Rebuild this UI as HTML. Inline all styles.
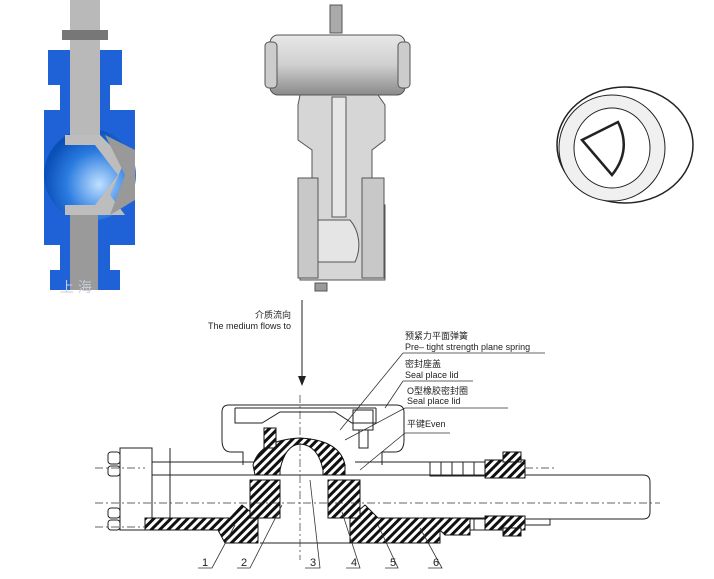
<!DOCTYPE html>
<html><head><meta charset="utf-8"><style>
html,body{margin:0;padding:0;background:#fff;width:714px;height:579px;overflow:hidden}
svg{display:block}
text{font-family:"Liberation Sans","Noto Sans CJK SC",sans-serif;fill:#222}
</style></head><body>
<svg width="714" height="579" viewBox="0 0 714 579" xmlns="http://www.w3.org/2000/svg">
<defs>
<pattern id="h" width="6" height="6" patternUnits="userSpaceOnUse" patternTransform="rotate(45)">
<rect width="6" height="6" fill="#fff"/><rect width="3" height="6" fill="#111"/></pattern>
<linearGradient id="cyl" x1="0" y1="0" x2="0" y2="1"><stop offset="0" stop-color="#e8e8e8"/><stop offset=".5" stop-color="#cfcfcf"/><stop offset="1" stop-color="#8a8a8a"/></linearGradient>
<radialGradient id="bl" cx=".6" cy=".6" r=".6"><stop offset="0" stop-color="#bfe0ff"/><stop offset=".6" stop-color="#2a7be0"/><stop offset="1" stop-color="#0b4fb8"/></radialGradient>
</defs>

<!-- Left blue valve -->
<g>
<path d="M48 50 H122 V85 H110 V110 H135 V245 H110 V270 H120 V290 H50 V270 H60 V245 H44 V110 H60 V85 H48 Z" fill="#1f62d8"/>
<ellipse cx="90" cy="175" rx="46" ry="46" fill="url(#bl)"/>
<rect x="70" y="0" width="30" height="135" fill="#b9b9b9"/>
<rect x="62" y="30" width="46" height="10" fill="#777"/>
<rect x="70" y="210" width="28" height="80" fill="#9a9a9a"/>
<path d="M65 135 H100 L125 160 L110 195 L125 215 H100 L65 215 V205 H95 L118 175 L95 145 H65 Z" fill="#bdbdbd"/>
<path d="M105 135 L135 150 V200 L110 215 L125 175 Z" fill="#999"/>
</g>

<!-- Middle actuator valve -->
<g stroke="#555" stroke-width="1">
<rect x="330" y="5" width="12" height="28" fill="#aaa"/>
<rect x="270" y="35" width="135" height="60" rx="8" fill="url(#cyl)"/>
<rect x="265" y="42" width="12" height="46" rx="4" fill="#ccc"/>
<rect x="398" y="42" width="12" height="46" rx="4" fill="#ccc"/>
<path d="M300 95 H378 L385 105 V140 L372 150 V200 L385 205 V280 H300 V205 L312 200 V150 L298 140 V105 Z" fill="#d6d6d6"/>
<rect x="298" y="178" width="20" height="100" fill="#c8c8c8"/>
<rect x="362" y="178" width="22" height="100" fill="#c8c8c8"/>
<rect x="332" y="97" width="14" height="120" fill="#e6e6e6"/>
<path d="M318 220 H350 A30 35 0 0 1 355 262 H318 Z" fill="#e5e5e5"/>
<rect x="315" y="283" width="12" height="8" fill="#999"/>
</g>

<!-- Right ring -->
<g stroke="#222" fill="#fff">
<ellipse cx="625" cy="145" rx="68" ry="58" stroke-width="1.5"/>
<ellipse cx="612" cy="148" rx="53" ry="53" fill="#f0f0f0"/>
<ellipse cx="612" cy="148" rx="38" ry="40" fill="#fff"/>
<path d="M582 140 L618 122 Q632 150 612 175 Z" fill="#fff" stroke-width="2.5"/>
</g>

<text x="60" y="292" font-size="14" style="fill:#c8ccd8">上 海</text>

<!-- Labels -->
<text x="255" y="318" font-size="9">介质流向</text>
<text x="208" y="329" font-size="9">The medium flows to</text>
<line x1="302" y1="300" x2="302" y2="383" stroke="#222"/>
<path d="M298 376 L302 386 L306 376 Z" fill="#222"/>

<text x="405" y="339" font-size="9">预紧力平面弹簧</text>
<text x="405" y="350" font-size="9">Pre– tight strength plane spring</text>
<line x1="403" y1="353" x2="545" y2="353" stroke="#333" stroke-width=".8"/>
<text x="405" y="367" font-size="9">密封座盖</text>
<text x="405" y="378" font-size="9">Seal place lid</text>
<line x1="403" y1="381" x2="473" y2="381" stroke="#333" stroke-width=".8"/>
<text x="407" y="394" font-size="9">O型橡胶密封圈</text>
<text x="407" y="404" font-size="9">Seal place lid</text>
<line x1="405" y1="408" x2="508" y2="408" stroke="#333" stroke-width=".8"/>
<text x="407" y="427" font-size="9">平键Even</text>
<line x1="405" y1="433" x2="450" y2="433" stroke="#333" stroke-width=".8"/>
<g stroke="#333" stroke-width=".8" fill="none">
<line x1="403" y1="353" x2="340" y2="430"/>
<line x1="403" y1="381" x2="385" y2="408"/>
<line x1="405" y1="408" x2="345" y2="440"/>
<line x1="405" y1="433" x2="360" y2="470"/>
</g>

<!-- Drawing -->
<g stroke="#222" stroke-width="1" fill="none">
<path d="M222 440 V412 Q222 405 229 405 H396 Q404 405 404 412 V440 Q404 452 395 452 H382 V465 M222 440 Q222 452 231 452 H243 V465"/>
<line x1="235" y1="408" x2="376" y2="408"/>
<path d="M235 408 V423 H262 L280 412 H335 L352 423 H376 V408"/>
<rect x="120" y="448" width="32" height="82" fill="#fff"/>
<rect x="108" y="452" width="12" height="12" rx="3"/>
<rect x="108" y="466" width="12" height="10" rx="3"/>
<rect x="108" y="520" width="12" height="10" rx="3"/>
<rect x="108" y="508" width="12" height="10" rx="3"/>
<line x1="152" y1="462" x2="255" y2="462"/>
<line x1="152" y1="475" x2="430" y2="475"/>
<line x1="152" y1="522" x2="255" y2="522"/>
<line x1="170" y1="448" x2="170" y2="530"/>
<path d="M355 475 H643 Q650 475 650 482 V512 Q650 519 643 519 H355"/>
<line x1="355" y1="462" x2="430" y2="462"/>
<rect x="520" y="519" width="30" height="6"/>
<rect x="430" y="462" width="55" height="14"/>
<rect x="430" y="518" width="55" height="12"/>
<line x1="441" y1="462" x2="441" y2="476"/><line x1="452" y1="462" x2="452" y2="476"/><line x1="463" y1="462" x2="463" y2="476"/><line x1="474" y1="462" x2="474" y2="476"/>
<line x1="441" y1="518" x2="441" y2="530"/><line x1="452" y1="518" x2="452" y2="530"/><line x1="463" y1="518" x2="463" y2="530"/><line x1="474" y1="518" x2="474" y2="530"/>
<rect x="353" y="410" width="20" height="20"/>
<rect x="359" y="430" width="9" height="18"/>
<line x1="260" y1="543" x2="350" y2="543"/>
</g>
<g stroke="#111" stroke-width="1" fill="url(#h)">
<path d="M145 530 V518 H230 L242 505 L258 518 L258 543 H225 L218 530 Z"/>
<path d="M350 543 V518 L365 505 L378 518 H470 V535 H445 L440 530 V543 Z"/>
<path d="M255 475 H280 V470 Q285 445 300 444 Q318 445 323 470 V475 H345 V465 Q340 440 300 438 Q260 440 253 465 Z"/>
<rect x="250" y="480" width="30" height="38"/>
<rect x="328" y="480" width="32" height="38"/>
<rect x="485" y="460" width="40" height="18"/>
<rect x="485" y="516" width="40" height="14"/>
<rect x="503" y="452" width="18" height="10"/>
<rect x="503" y="528" width="18" height="8"/>
<rect x="264" y="428" width="12" height="20"/>
</g>
<g stroke="#333" stroke-width=".7" stroke-dasharray="8 3 2 3" fill="none">
<line x1="95" y1="503" x2="660" y2="503"/>
<line x1="300" y1="395" x2="300" y2="560"/>
<line x1="95" y1="468" x2="145" y2="468"/>
<line x1="95" y1="527" x2="145" y2="527"/>
<line x1="525" y1="468" x2="555" y2="468"/>
</g>
<g stroke="#333" stroke-width=".8" fill="none">
<path d="M198 568 H212 L235 525"/>
<path d="M237 568 H250 L282 505"/>
<path d="M305 568 H320 L310 480"/>
<path d="M346 568 H360 L342 512"/>
<path d="M385 568 H398 L378 525"/>
<path d="M428 568 H442 L420 528"/>
</g>
<g font-size="11">
<text x="202" y="566">1</text><text x="241" y="566">2</text><text x="310" y="566">3</text>
<text x="351" y="566">4</text><text x="390" y="566">5</text><text x="433" y="566">6</text>
</g>
</svg>
</body></html>
